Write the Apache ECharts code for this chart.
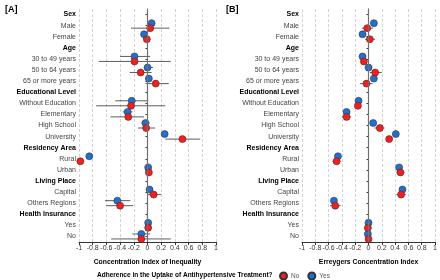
<!DOCTYPE html>
<html><head><meta charset="utf-8">
<script src="https://cdn.jsdelivr.net/npm/echarts@6/dist/echarts.min.js"></script>
<style>html,body{margin:0;padding:0;background:#fff}#c{width:440px;height:280px}</style>
</head><body><div id="c"></div>
<script>
var categories = ['Sex','Male','Female','Age','30 to 49 years','50 to 64 years','65 or more years','Educational Level','Without Education','Elementary','High School','University','Residency Area','Rural','Urban','Living Place','Capital','Others Regions','Health Insurance','Yes','No'];
var headers = ['Sex','Age','Educational Level','Residency Area','Living Place','Health Insurance'];
var xTicks = [-1,-0.8,-0.6,-0.4,-0.2,0,0.2,0.4,0.6,0.8,1];

// Panel A: Concentration Index of Inequality
var aYes   = [null,0.06,-0.05,null,-0.19,0.00,0.02,null,-0.23,-0.29,-0.03,0.25,null,-0.85,0.01,null,0.03,-0.44,null,0.01,-0.09];
var aYesLo = [null,0.01,-0.09,null,-0.40,-0.05,-0.03,null,-0.47,-0.36,-0.09,0.20,null,-0.87,-0.01,null,-0.01,-0.62,null,-0.01,-0.22];
var aYesHi = [null,0.11,-0.01,null,0.04,0.08,0.06,null,0.01,-0.22,0.03,0.30,null,-0.83,0.03,null,0.07,-0.25,null,0.03,0.04];
var aNo    = [null,0.04,-0.01,null,-0.19,-0.10,0.12,null,-0.24,-0.28,-0.02,0.51,null,-0.98,0.02,null,0.09,-0.40,null,0.01,-0.09];
var aNoLo  = [null,-0.24,-0.06,null,-0.71,-0.26,-0.03,null,-0.75,-0.54,-0.14,0.26,null,-1.00,0.00,null,0.00,-0.60,null,-0.01,-0.53];
var aNoHi  = [null,0.32,0.04,null,0.34,0.06,0.31,null,0.26,-0.05,0.11,0.77,null,-0.96,0.04,null,0.20,-0.21,null,0.03,0.34];

// Panel B: Erreygers Concentration Index
var bYes   = [null,0.08,-0.09,null,-0.09,0.00,0.08,null,-0.15,-0.33,0.07,0.41,null,-0.46,0.46,null,0.51,-0.52,null,0.00,-0.01];
var bYesLo = [null,0.06,-0.11,null,-0.11,-0.02,0.06,null,-0.17,-0.35,0.05,0.39,null,-0.48,0.44,null,0.49,-0.54,null,-0.01,-0.02];
var bYesHi = [null,0.10,-0.07,null,-0.07,0.02,0.10,null,-0.13,-0.31,0.09,0.43,null,-0.44,0.48,null,0.53,-0.50,null,0.01,0.00];
var bNo    = [null,-0.02,0.02,null,-0.07,0.10,-0.03,null,-0.16,-0.33,0.17,0.31,null,-0.48,0.48,null,0.49,-0.50,null,-0.01,0.00];
var bNoLo  = [null,-0.10,-0.05,null,-0.10,0.02,-0.13,null,-0.18,-0.40,0.09,0.29,null,-0.54,0.42,null,0.42,-0.58,null,-0.02,-0.01];
var bNoHi  = [null,0.07,0.10,null,-0.04,0.20,0.06,null,-0.14,-0.26,0.24,0.33,null,-0.42,0.54,null,0.56,-0.42,null,0.00,0.01];

var RED = '#ff1a1a', BLUE = '#1f70d6';
var FONT = "'Liberation Sans', Arial, sans-serif";

function pts(vals){ var out=[]; vals.forEach(function(v,i){ if(v!==null) out.push([v,i]); }); return out; }
function bars(lo,hi){ var out=[]; lo.forEach(function(v,i){ if(v!==null) out.push([v,hi[i],i]); }); return out; }
function errSeries(idx, lo, hi, off){
  return {type:'custom', xAxisIndex:idx, yAxisIndex:idx, silent:true, z:1,
    encode:{x:[0,1], y:2},
    data: bars(lo,hi),
    renderItem:function(params, api){
      var c = api.value(2);
      var p1 = api.coord([api.value(0), c]), p2 = api.coord([api.value(1), c]);
      return {type:'line', shape:{x1:p1[0], y1:p1[1]+off, x2:p2[0], y2:p2[1]+off},
        style:{stroke:'#333', lineWidth:0.8}};
    }};
}
function dotSeries(idx, name, vals, color, off){
  return {type:'scatter', name:name, xAxisIndex:idx, yAxisIndex:idx, z:3,
    data: pts(vals), symbol:'circle', symbolSize:7, symbolOffset:[0,off],
    itemStyle:{color:color, borderColor:'#333', borderWidth:0.6, opacity:1}};
}
function fmtTick(v){ return (Math.round(v*10)/10).toString(); }
function xAxis(idx, name){
  return {type:'value', gridIndex:idx, min:-1, max:1, interval:0.2,
    name:name, nameLocation:'middle', nameGap:17,
    nameTextStyle:{fontFamily:FONT, fontSize:6.8, fontWeight:'bold', color:'#000'},
    axisLine:{show:true, lineStyle:{color:'#333', width:1}},
    axisTick:{show:true, length:3, lineStyle:{color:'#333'}},
    axisLabel:{fontFamily:FONT, fontSize:7, color:'#333', margin:3, formatter:fmtTick},
    splitLine:{show:true, lineStyle:{color:'#c8c8c8', type:[3,2], width:0.8}}};
}
function yAxis(idx){
  return {type:'category', gridIndex:idx, data:categories, inverse:true, boundaryGap:true,
    axisLine:{show:true, lineStyle:{color:'#333', width:1}},
    axisTick:{show:true, alignWithLabel:true, length:2, lineStyle:{color:'#333'}},
    axisLabel:{fontFamily:FONT, fontSize:7, color:'#444', margin:3,
      formatter:function(v){ return headers.indexOf(v)>=0 ? '{h|'+v+'}' : v; },
      rich:{h:{fontFamily:FONT, fontSize:7, fontWeight:'bold', color:'#000'}}},
    splitLine:{show:false}};
}
var zeroLine = {silent:true, symbol:'none', label:{show:false},
  lineStyle:{color:'#707070', type:'solid', width:1.2}, data:[{xAxis:0}]};

var chart = echarts.init(document.getElementById('c'), null, {renderer:'canvas'});
var s = [
  errSeries(0, aYesLo, aYesHi, -2.5), errSeries(0, aNoLo, aNoHi, 2.5),
  dotSeries(0, 'Yes', aYes, BLUE, -2.5), dotSeries(0, 'No', aNo, RED, 2.5),
  errSeries(1, bYesLo, bYesHi, -2.5), errSeries(1, bNoLo, bNoHi, 2.5),
  dotSeries(1, 'Yes', bYes, BLUE, -2.5), dotSeries(1, 'No', bNo, RED, 2.5)
];
s[2].markLine = zeroLine; s[6].markLine = zeroLine;
chart.setOption({
  animation:false,
  textStyle:{fontFamily:FONT},
  title:[
    {text:'[A]', left:0, top:0, textStyle:{fontFamily:FONT, fontSize:9, fontWeight:'bold', color:'#000'}},
    {text:'[B]', left:221, top:0, textStyle:{fontFamily:FONT, fontSize:9, fontWeight:'bold', color:'#000'}}
  ],
  grid:[
    {left:79, width:137, top:9, height:233},
    {left:302, width:137, top:9, height:233}
  ],
  xAxis:[xAxis(0,'Concentration Index of Inequality'), xAxis(1,'Erreygers Concentration Index')],
  yAxis:[yAxis(0), yAxis(1)],
  legend:{data:['No','Yes'], left:279, top:271.5, padding:0, itemWidth:7, itemHeight:7, itemGap:8,
    icon:'circle', textStyle:{fontFamily:FONT, fontSize:6.5, color:'#555', padding:[0,0,0,-1]}},
  graphic:[{type:'text', left:97, top:272,
    style:{text:'Adherence in the Uptake of Antihypertensive Treatment?', fontFamily:FONT, fontSize:6.5, fontWeight:'bold', fill:'#000'}}],
  series:s
});
</script></body></html>
